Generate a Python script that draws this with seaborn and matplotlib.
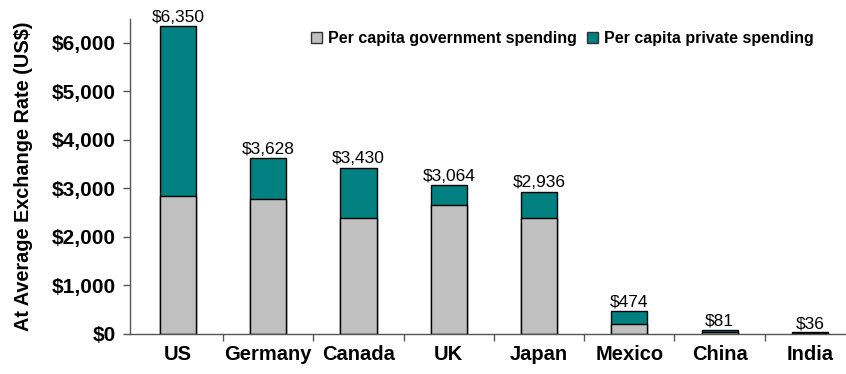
import matplotlib
matplotlib.use("Agg")
import matplotlib.pyplot as plt
from matplotlib.ticker import FixedLocator, FuncFormatter
from matplotlib.patches import Patch
import seaborn as sns
import pandas as pd

countries = ["US", "Germany", "Canada", "UK", "Japan", "Mexico", "China", "India"]
total_spending = [6350, 3628, 3430, 3064, 2936, 474, 81, 36]
government_spending = [2850, 2780, 2400, 2660, 2400, 200, 35, 18]

GRAY = "#C0C0C0"
TEAL = "#008080"

sns.set_theme(style="white")
plt.rcParams["font.family"] = ["Liberation Sans", "DejaVu Sans"]
plt.rcParams["text.color"] = "black"
plt.rcParams["axes.labelcolor"] = "black"
plt.rcParams["xtick.color"] = "black"
plt.rcParams["ytick.color"] = "black"

df = pd.DataFrame({
    "country": countries,
    "total": total_spending,
    "government": government_spending,
})

fig = plt.figure(figsize=(8.46, 3.74), dpi=100)
ax = fig.add_axes([0.1537, 0.107, 0.8463, 0.843])

# Stacked bars: full total in teal, government share drawn over it in gray
sns.barplot(data=df, x="country", y="total", color=TEAL, width=0.4,
            edgecolor="black", linewidth=1, saturation=1, ax=ax)
sns.barplot(data=df, x="country", y="government", color=GRAY, width=0.4,
            edgecolor="black", linewidth=1, saturation=1, ax=ax)

for i, v in enumerate(total_spending):
    ax.text(i, v + 25, f"${v:,}", ha="center", va="bottom", fontsize=12.5,
            color="black")

ax.set_ylim(0, 6500)
ax.set_xlim(-0.53, 7.40)
ax.set_yticks(range(0, 7000, 1000))
ax.yaxis.set_major_formatter(FuncFormatter(lambda v, p: f"${int(v):,}"))

ax.set_xlabel("")
ax.set_ylabel("At Average Exchange Rate (US$)", fontsize=14.3, fontweight="bold",
              labelpad=14)
ax.set_xticks(range(len(countries)))
ax.set_xticklabels(countries, fontsize=14.5, fontweight="bold")
ax.xaxis.set_minor_locator(FixedLocator([i + 0.5 for i in range(len(countries) - 1)]))
ax.tick_params(axis="x", which="major", length=0, pad=8)
ax.tick_params(axis="x", which="minor", length=5, width=1, color="#555555",
               direction="out", bottom=True)
ax.tick_params(axis="y", length=5, width=1, color="#555555", labelcolor="black",
               direction="out", left=True, labelsize=15, pad=5)
for lab in ax.get_yticklabels():
    lab.set_fontweight("bold")

for side in ["top", "right"]:
    ax.spines[side].set_visible(False)
for side in ["left", "bottom"]:
    ax.spines[side].set_color("#555555")
    ax.spines[side].set_linewidth(1)

handles = [
    Patch(facecolor=GRAY, edgecolor="#333333", label="Per capita government spending"),
    Patch(facecolor=TEAL, edgecolor="#333333", label="Per capita private spending"),
]
leg = ax.legend(handles=handles, loc="upper left", bbox_to_anchor=(0.232, 1.005),
                ncol=2, frameon=False, prop={"weight": "bold", "size": 11.5},
                handlelength=0.7, handleheight=0.7, handletextpad=0.4,
                columnspacing=0.6)

fig.savefig("out.png", dpi=100)
